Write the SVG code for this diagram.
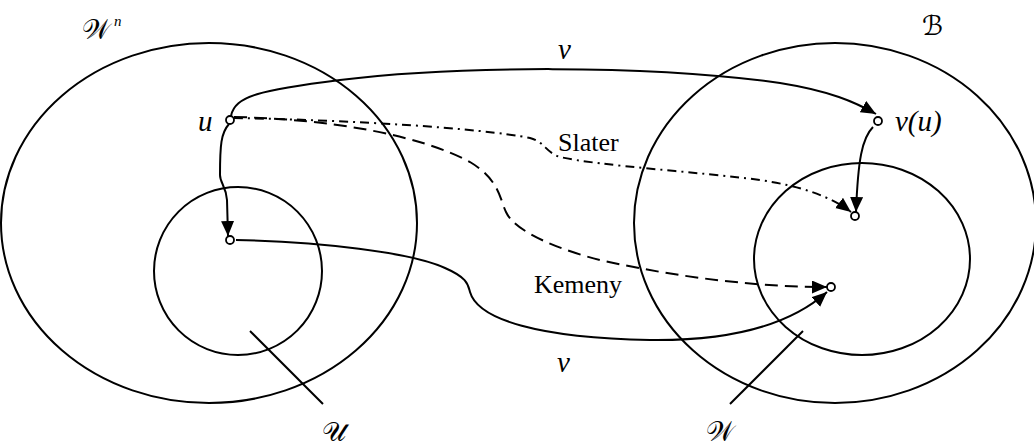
<svg xmlns="http://www.w3.org/2000/svg" width="1034" height="446" viewBox="0 0 1034 446">
<style>
.shape{fill:none;stroke:#000;stroke-width:2}
.conn{fill:none;stroke:#000;stroke-width:2}
.dash{stroke-dasharray:13 7}
.dashdot{stroke-dasharray:9 5 2 5}
.node{fill:#fff;stroke:#000;stroke-width:1.8}
text{fill:#000}
.t{font-family:'Liberation Serif','Times New Roman',Tinos,'DejaVu Serif',serif}
.i{font-style:italic;font-size:29px}
.r{font-size:26px}
.s{font-family:'DejaVu Serif','DejaVu Sans',serif;font-size:27px}
</style>
<defs>
<marker id="ah" markerUnits="userSpaceOnUse" markerWidth="16" markerHeight="14" refX="15" refY="6.5" orient="auto">
<path d="M0,0 L15,6.5 L0,13 z" fill="#000"/>
</marker>
</defs>
<g id="setWn">
<ellipse class="shape" cx="209" cy="223" rx="208" ry="180"/>
<text class="s" x="82" y="39">𝒲</text>
<text class="t" x="114" y="26" font-style="italic" font-size="15">n</text>
</g>
<g id="setU">
<circle class="shape" cx="238" cy="271" r="84"/>
<line class="shape" x1="250" y1="331" x2="323" y2="404"/>
<text class="s" x="322" y="441">𝒰</text>
</g>
<g id="setB">
<ellipse class="shape" cx="835" cy="223" rx="201" ry="180"/>
<text class="s" x="922" y="35">ℬ</text>
</g>
<g id="setW">
<ellipse class="shape" cx="862" cy="259" rx="108" ry="96"/>
<line class="shape" x1="803" y1="331" x2="730" y2="404"/>
<text class="s" x="706" y="441">𝒲</text>
</g>
<g id="connectors">
<path class="conn" marker-end="url(#ah)" d="M231,116 C235,96 260,90 340,80 C450,66 650,64 780,83 C830,91 855,102 876,114"/>
<path class="conn" marker-end="url(#ah)" d="M229,124 C221,133 220,145 220,175 C220,183 226,186 227,200 L228,236"/>
<path class="conn" marker-end="url(#ah)" d="M236,240 C320,242 410,252 445,268 C468,278 468,285 470,292 C478,320 540,338 650,340 C730,341 790,325 827,292"/>
<path class="conn dash" marker-end="url(#ah)" d="M234,117 C330,119 420,135 470,162 C500,180 500,200 506,212 C515,232 560,250 600,260 C680,278 760,287 827,287"/>
<path class="conn dashdot" marker-end="url(#ah)" d="M234,118 C350,120 480,128 530,138 C545,142 545,152 560,157 C600,166 700,172 760,180 C800,186 830,196 851,212"/>
<path class="conn" marker-end="url(#ah)" d="M873,127 C862,138 858,160 856,212"/>
<text class="t i" x="558" y="59">v</text>
<text class="t i" x="557" y="372">v</text>
<text class="t r" x="558" y="151">Slater</text>
<text class="t r" x="534" y="293">Kemeny</text>
</g>
<g id="node-u">
<circle class="node" cx="230" cy="120" r="4"/>
<text class="t i" x="198" y="131">u</text>
</g>
<g id="node-u2">
<circle class="node" cx="230" cy="240" r="4"/>
</g>
<g id="node-vu">
<circle class="node" cx="878" cy="121" r="4"/>
<text class="t i" x="895" y="131">v(u)</text>
</g>
<g id="node-slater">
<circle class="node" cx="855" cy="216" r="4"/>
</g>
<g id="node-kemeny">
<circle class="node" cx="831" cy="287" r="4"/>
</g>
</svg>
